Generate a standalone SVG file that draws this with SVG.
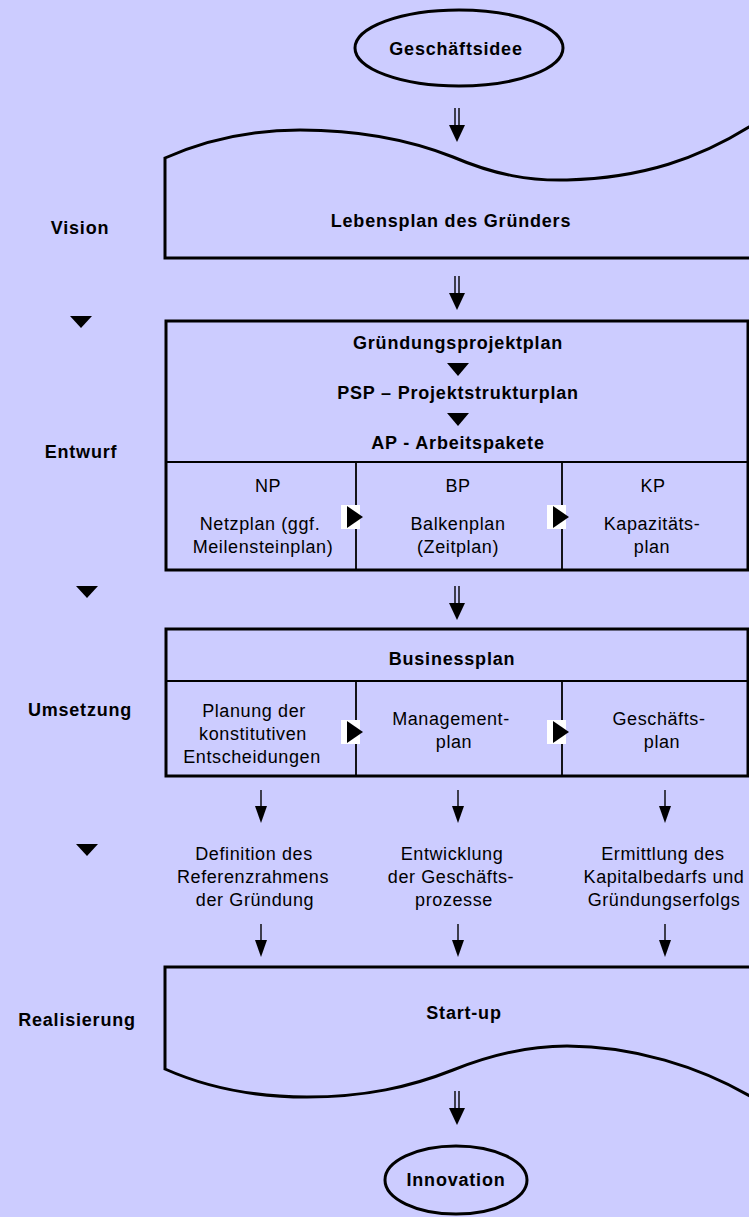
<svg xmlns="http://www.w3.org/2000/svg" width="749" height="1217" viewBox="0 0 749 1217">
<style>
.b{font-family:"Liberation Sans",Arial,sans-serif;font-size:18px;font-weight:bold;letter-spacing:0.8px;text-anchor:middle;fill:#000}
.r{font-family:"Liberation Sans",Arial,sans-serif;font-size:18px;letter-spacing:0.6px;text-anchor:middle;fill:#000}
.thick{fill:none;stroke:#000;stroke-width:3}
.thin{fill:none;stroke:#000;stroke-width:1.8}
.shaft{stroke:#000;stroke-width:1.4}
.tri{fill:#000}
.mk{fill:#fff}
</style>
<defs>
<g id="darr">
<line class="shaft" x1="-2" y1="0" x2="-2" y2="19"/>
<line class="shaft" x1="2" y1="0" x2="2" y2="19"/>
<polygon class="tri" points="-8,17 8,17 0,34"/>
</g>
<g id="sarr">
<line class="shaft" x1="0" y1="0" x2="0" y2="18"/>
<polygon class="tri" points="-6,16 6,16 0,33"/>
</g>
<g id="mark">
<rect class="mk" x="-15" y="-12" width="19" height="24"/>
<polygon class="tri" points="-9,-11 7,0 -9,11"/>
</g>
</defs>
<rect x="0" y="0" width="749" height="1217" fill="#ccccff"/>

<g id="labels">
<text class="b" x="80" y="234">Vision</text>
<polygon class="tri" points="70,316 92,316 81,328"/>
<text class="b" x="81" y="458">Entwurf</text>
<polygon class="tri" points="76,586 98,586 87,598"/>
<text class="b" x="80" y="716">Umsetzung</text>
<polygon class="tri" points="76,844 98,844 87,856"/>
<text class="b" x="77" y="1026">Realisierung</text>
</g>

<g id="geschaeftsidee">
<ellipse class="thick" cx="459" cy="48" rx="104" ry="38"/>
<text class="b" x="456" y="55">Geschäftsidee</text>
</g>

<g id="vision">
<path class="thick" d="M165,258 L165,158 C210,138 255,130 300,130 C360,130 410,140 453,157 C495,175 530,181 567,180 C640,178 700,160 760,120 L760,258 Z"/>
<text class="b" x="451" y="227">Lebensplan des Gründers</text>
</g>

<g id="entwurf">
<rect class="thick" x="166" y="321" width="582" height="249"/>
<line class="thin" x1="166" y1="462" x2="748" y2="462"/>
<line class="thin" x1="356" y1="462" x2="356" y2="570"/>
<line class="thin" x1="562" y1="462" x2="562" y2="570"/>
<text class="b" x="458" y="349">Gründungsprojektplan</text>
<polygon class="tri" points="447,363 469,363 458,376"/>
<text class="b" x="458" y="399">PSP – Projektstrukturplan</text>
<polygon class="tri" points="447,413 469,413 458,426"/>
<text class="b" x="458" y="449">AP - Arbeitspakete</text>
<text class="r" x="268" y="492">NP</text>
<text class="r" x="260" y="530">Netzplan (ggf.</text>
<text class="r" x="263" y="553">Meilensteinplan)</text>
<text class="r" x="458" y="492">BP</text>
<text class="r" x="458" y="530">Balkenplan</text>
<text class="r" x="458" y="553">(Zeitplan)</text>
<text class="r" x="653" y="492">KP</text>
<text class="r" x="652" y="530">Kapazitäts-</text>
<text class="r" x="652" y="553">plan</text>
<use href="#mark" x="356" y="517"/>
<use href="#mark" x="562" y="517"/>
</g>

<g id="businessplan">
<rect class="thick" x="166" y="629" width="582" height="147"/>
<line class="thin" x1="166" y1="681" x2="748" y2="681"/>
<line class="thin" x1="356" y1="681" x2="356" y2="776"/>
<line class="thin" x1="562" y1="681" x2="562" y2="776"/>
<text class="b" x="452" y="665">Businessplan</text>
<text class="r" x="254" y="717">Planung der</text>
<text class="r" x="253" y="740">konstitutiven</text>
<text class="r" x="252" y="763">Entscheidungen</text>
<text class="r" x="451" y="725">Management-</text>
<text class="r" x="454" y="748">plan</text>
<text class="r" x="659" y="725">Geschäfts-</text>
<text class="r" x="662" y="748">plan</text>
<use href="#mark" x="356" y="732"/>
<use href="#mark" x="562" y="732"/>
</g>

<g id="ergebnisse">
<text class="r" x="254" y="860">Definition des</text>
<text class="r" x="253" y="883">Referenzrahmens</text>
<text class="r" x="255" y="906">der Gründung</text>
<text class="r" x="452" y="860">Entwicklung</text>
<text class="r" x="451" y="883">der Geschäfts-</text>
<text class="r" x="454" y="906">prozesse</text>
<text class="r" x="663" y="860">Ermittlung des</text>
<text class="r" x="664" y="883">Kapitalbedarfs und</text>
<text class="r" x="664" y="906">Gründungserfolgs</text>
</g>

<g id="startup">
<path class="thick" d="M165,967 L165,1069 C210,1089 255,1097 307,1097 C365,1097 410,1087 453,1070 C495,1053 530,1046 567,1046 C630,1046 700,1065 760,1102 L760,967 Z"/>
<text class="b" x="464" y="1019">Start-up</text>
</g>

<g id="innovation">
<ellipse class="thick" cx="456" cy="1180" rx="71" ry="34"/>
<text class="b" x="456" y="1186">Innovation</text>
</g>

<g id="connectors">
<use href="#darr" x="457" y="108"/>
<use href="#darr" x="457" y="276"/>
<use href="#darr" x="457" y="586"/>
<use href="#sarr" x="261" y="790"/>
<use href="#sarr" x="458" y="790"/>
<use href="#sarr" x="665" y="790"/>
<use href="#sarr" x="261" y="924"/>
<use href="#sarr" x="458" y="924"/>
<use href="#sarr" x="665" y="924"/>
<use href="#darr" x="457" y="1091"/>
</g>
</svg>
